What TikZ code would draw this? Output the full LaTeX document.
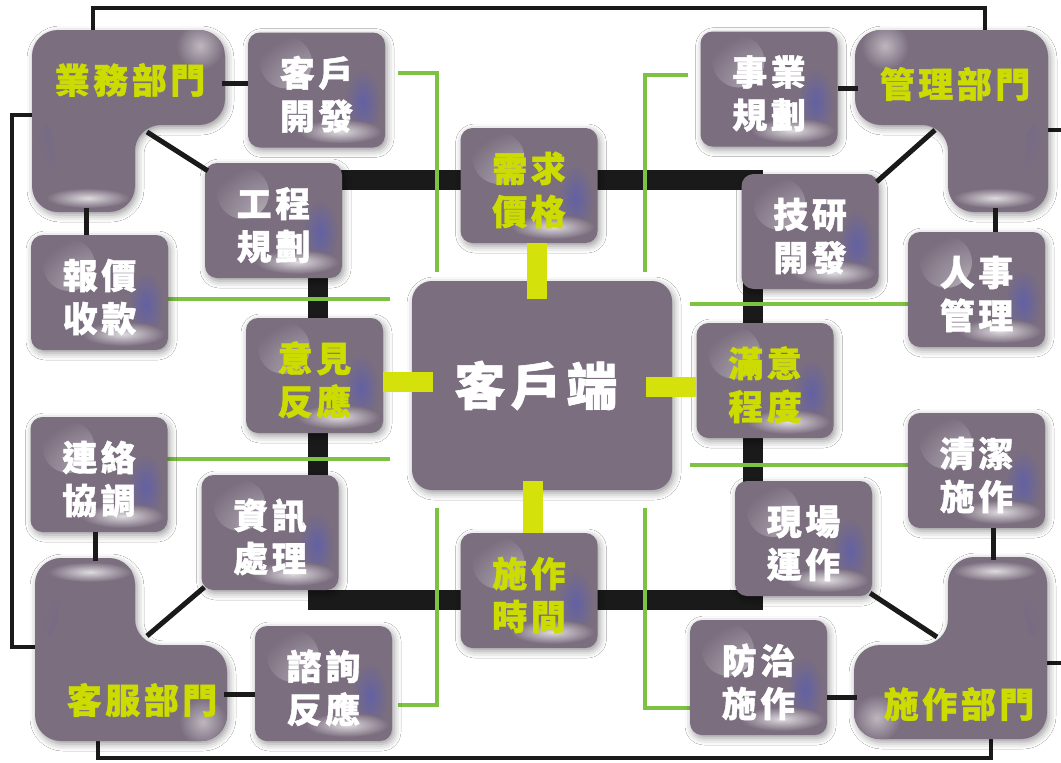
\documentclass[tikz,border=0pt]{standalone}
\usepackage{fontspec}
\newfontfamily\cjk[LetterSpace=10, BoldFeatures={FakeBold=1.2}]{Noto Sans CJK TC}
\usetikzlibrary{calc,shadows.blur}
\definecolor{boxcol}{HTML}{7B6E7F}
\definecolor{tgreen}{HTML}{CDDC00}
\definecolor{bargreen}{HTML}{D4E10B}
\definecolor{lgreen}{HTML}{7DC242}
\definecolor{ink}{HTML}{1A1A1A}
\definecolor{glowblue}{HTML}{5A5CB0}
\colorlet{hlite}{boxcol!50!white}
\colorlet{streak}{boxcol!25!white}
\colorlet{bglow}{glowblue!75!boxcol}
\newcommand\tstrut{\rule{0pt}{39pt}}
\tikzset{
  deco/.style={path picture={
    \shade[inner color=hlite, outer color=boxcol] ([shift={(38,30)}]path picture bounding box.north west) circle[radius=26pt];
    \shade[inner color=bglow, outer color=boxcol] ([shift={(-22,-45)}]path picture bounding box.south east) ellipse[x radius=18pt, y radius=34pt];
    \shade[inner color=streak, outer color=boxcol] ([shift={(-45,-16)}]path picture bounding box.south east) ellipse[x radius=42pt, y radius=12pt];
  }},
  shad/.style={blur shadow={shadow xshift=2pt, shadow yshift=-3pt, shadow blur radius=7pt, shadow opacity=40}},
  sbox/.style={rectangle, rounded corners=12pt, fill=boxcol, minimum width=137pt, minimum height=115pt,
    inner sep=0pt, align=center, deco, shad, text=white, font=\cjk\bfseries\fontsize{35}{43}\selectfont},
  gbox/.style={sbox, text=tgreen},
  dept/.style={fill=boxcol, rounded corners=26pt, shad},
  dlabel/.style={text=tgreen, inner sep=0pt, font=\cjk\bfseries\fontsize{35}{40}\selectfont},
  thinblack/.style={ink, line width=5pt},
  frame/.style={ink, line width=4pt},
  gline/.style={lgreen, line width=4.5pt},
  bar/.style={bargreen, line width=20pt},
}
\begin{document}
\begin{tikzpicture}[x=1pt,y=-1pt]
\useasboundingbox (0,0) rectangle (1061,763);
\fill[white] (0,0) rectangle (1061,763);

% thick black frame
\draw[ink, line width=20pt] (318,180) rectangle (753,600);

% thin green lines (free ends)
\coordinate (g1a) at (398,73);  \coordinate (g1b) at (437,73);  \coordinate (g1c) at (437,272);
\coordinate (g2a) at (688,75);  \coordinate (g2b) at (645,75);  \coordinate (g2c) at (645,272);
\coordinate (g3a) at (168,299); \coordinate (g3b) at (390,299);
\coordinate (g4a) at (167,459); \coordinate (g4b) at (390,459);
\coordinate (g5a) at (690,304); \coordinate (g5b) at (908,304);
\coordinate (g6a) at (690,465); \coordinate (g6b) at (908,465);
\coordinate (g7a) at (437,508); \coordinate (g7b) at (437,705); \coordinate (g7c) at (398,705);
\coordinate (g8a) at (645,508); \coordinate (g8b) at (645,708); \coordinate (g8c) at (690,708);
\draw[gline] (g1a) -- (g1b) -- (g1c);
\draw[gline] (g2a) -- (g2b) -- (g2c);
\draw[gline] (g3a) -- (g3b);
\draw[gline] (g4a) -- (g4b);
\draw[gline] (g5a) -- (g5b);
\draw[gline] (g6a) -- (g6b);
\draw[gline] (g7a) -- (g7b) -- (g7c);
\draw[gline] (g8a) -- (g8b) -- (g8c);

% department anchor coordinates
\coordinate (yw-top) at (93,32);   \coordinate (yw-left) at (34,115);
\coordinate (yw-e) at (222,83);    \coordinate (yw-d) at (147,132);  \coordinate (yw-s) at (86,208);
\coordinate (gl-top) at (985,32);  \coordinate (gl-right) at (1046,130);
\coordinate (gl-w) at (858,88);    \coordinate (gl-d) at (935,130);  \coordinate (gl-s) at (995,208);
\coordinate (kf-left) at (37,647); \coordinate (kf-bot) at (98,739);
\coordinate (kf-n) at (95,561);    \coordinate (kf-d) at (147,636);  \coordinate (kf-e) at (224,694);
\coordinate (sz-bot) at (991,737); \coordinate (sz-right) at (1045,663);
\coordinate (sz-n) at (993,560);   \coordinate (sz-d) at (937,637);  \coordinate (sz-w) at (857,697);
\coordinate (fr-tl) at (93,8);   \coordinate (fr-tr) at (985,8);
\coordinate (fr-l1) at (12,115); \coordinate (fr-l2) at (12,647);
\coordinate (fr-b1) at (98,758); \coordinate (fr-b2) at (991,758);
\coordinate (fr-r1) at (1075,130); \coordinate (fr-r2) at (1075,663);

% outer frame
\draw[frame] (yw-top) -- (fr-tl) -- (fr-tr) -- (gl-top);
\draw[frame] (yw-left) -- (fr-l1) -- (fr-l2) -- (kf-left);
\draw[frame] (kf-bot) -- (fr-b1) -- (fr-b2) -- (sz-bot);
\draw[frame] (gl-right) -- (fr-r1);
\draw[frame] (sz-right) -- (fr-r2);

% department L shapes
\path[dept, path picture={
    \shade[inner color=bglow, outer color=boxcol] (46,160) ellipse[x radius=9pt, y radius=36pt];
    \shade[inner color=streak, outer color=boxcol] (88,198) ellipse[x radius=42pt, y radius=10pt];
    \shade[inner color=hlite, outer color=boxcol] (200,46) circle[radius=24pt];
  }] (32,30) -- (225,30) -- (225,125) -- (135,125) -- (135,212) -- (32,212) -- cycle;
\path[dept, path picture={
    \shade[inner color=bglow, outer color=boxcol] (1034,160) ellipse[x radius=9pt, y radius=36pt];
    \shade[inner color=streak, outer color=boxcol] (995,198) ellipse[x radius=42pt, y radius=10pt];
    \shade[inner color=hlite, outer color=boxcol] (885,46) circle[radius=24pt];
  }] (855,30) -- (1048,30) -- (1048,212) -- (948,212) -- (948,125) -- (855,125) -- cycle;
\path[dept, path picture={
    \shade[inner color=bglow, outer color=boxcol] (50,600) ellipse[x radius=9pt, y radius=36pt];
    \shade[inner color=streak, outer color=boxcol] (90,572) ellipse[x radius=42pt, y radius=10pt];
    \shade[inner color=hlite, outer color=boxcol] (203,722) circle[radius=24pt];
  }] (35,558) -- (135,558) -- (135,645) -- (227,645) -- (227,741) -- (35,741) -- cycle;
\path[dept, path picture={
    \shade[inner color=bglow, outer color=boxcol] (1033,600) ellipse[x radius=9pt, y radius=36pt];
    \shade[inner color=streak, outer color=boxcol] (995,571) ellipse[x radius=42pt, y radius=10pt];
    \shade[inner color=hlite, outer color=boxcol] (877,718) circle[radius=24pt];
  }] (948,557) -- (1047,557) -- (1047,739) -- (854,739) -- (854,645) -- (948,645) -- cycle;

% boxes
\node[sbox] (kfa) at (316.5,90)  {\tstrut 客戶\\開發};
\node[sbox] (sy)  at (769,89)    {\tstrut 事業\\規劃};
\node[sbox] (gc)  at (273.5,220.5) {\tstrut 工程\\規劃};
\node[gbox] (xq)  at (529,185.5) {\tstrut 需求\\價格};
\node[sbox] (jy)  at (810,231.5) {\tstrut 技研\\開發};
\node[sbox] (bj)  at (99.5,292.5) {\tstrut 報價\\收款};
\node[sbox] (rs)  at (976.5,289.5) {\tstrut 人事\\管理};
\node[gbox] (yj)  at (314.5,375.5) {\tstrut 意見\\反應};
\node[gbox] (my)  at (765,380.5) {\tstrut 滿意\\程度};
\node[sbox] (ll)  at (99,474.5)  {\tstrut 連絡\\協調};
\node[sbox] (qj)  at (976.5,470.5) {\tstrut 清潔\\施作};
\node[sbox] (zx)  at (270,532.5) {\tstrut 資訊\\處理};
\node[gbox] (sj)  at (529,590.5) {\tstrut 施作\\時間};
\node[sbox] (xc)  at (803.5,538.5) {\tstrut 現場\\運作};
\node[sbox] (zr)  at (323.5,683.5) {\tstrut 諮詢\\反應};
\node[sbox] (fz)  at (758.5,677.5) {\tstrut 防治\\施作};
\node[sbox, minimum width=260pt, minimum height=209pt, rounded corners=20pt,
      font=\cjk\bfseries\fontsize{51}{60}\selectfont,
      path picture={
        \shade[inner color=boxcol!40!white, outer color=boxcol] (485,335) circle[radius=40pt];
        \shade[inner color=bglow, outer color=boxcol] (640,425) ellipse[x radius=30pt, y radius=55pt];
        \shade[inner color=streak, outer color=boxcol] (570,465) ellipse[x radius=85pt, y radius=22pt];
      }] (kh) at (542,385.5) {\hspace*{-12pt}客戶端};

% department labels
\node[dlabel] (ywbm) at (130,80)  {業務部門};
\node[dlabel] (glbm) at (955,84)  {管理部門};
\node[dlabel] (kfbm) at (142,700) {客服部門};
\node[dlabel] (szbm) at (959,704) {施作部門};

% thin black connectors (department to box)
\draw[thinblack] (yw-e) -- (yw-e -| kfa.west);
\draw[thinblack] (yw-d) -- ([shift={(3,8)}]gc.north west);
\draw[thinblack] (yw-s) -- (yw-s |- bj.north);
\draw[thinblack] (gl-w) -- (gl-w -| sy.east);
\draw[thinblack] (gl-d) -- ([shift={(-2,8)}]jy.north east);
\draw[thinblack] (gl-s) -- (gl-s |- rs.north);
\draw[thinblack] (kf-n) -- (kf-n |- ll.south);
\draw[thinblack] (kf-d) -- ([shift={(3,-3)}]zx.south west);
\draw[thinblack] (kf-e) -- (kf-e -| zr.west);
\draw[thinblack] (sz-n) -- (sz-n |- qj.south);
\draw[thinblack] (sz-d) -- ([shift={(-2,-3)}]xc.south east);
\draw[thinblack] (sz-w) -- (sz-w -| fz.east);

% thick yellow-green bars
\draw[bar] ([xshift=8pt]xq.south) -- ([xshift=8pt]xq.south |- 0,299);
\draw[bar] ([yshift=-6.5pt]yj.east) -- ++(50,0);
\draw[bar] ([yshift=-6.5pt]my.west) -- ++(-50,0);
\draw[bar] ([xshift=4pt]sj.north) -- ([xshift=4pt]sj.north |- 0,481);
\end{tikzpicture}
\end{document}
